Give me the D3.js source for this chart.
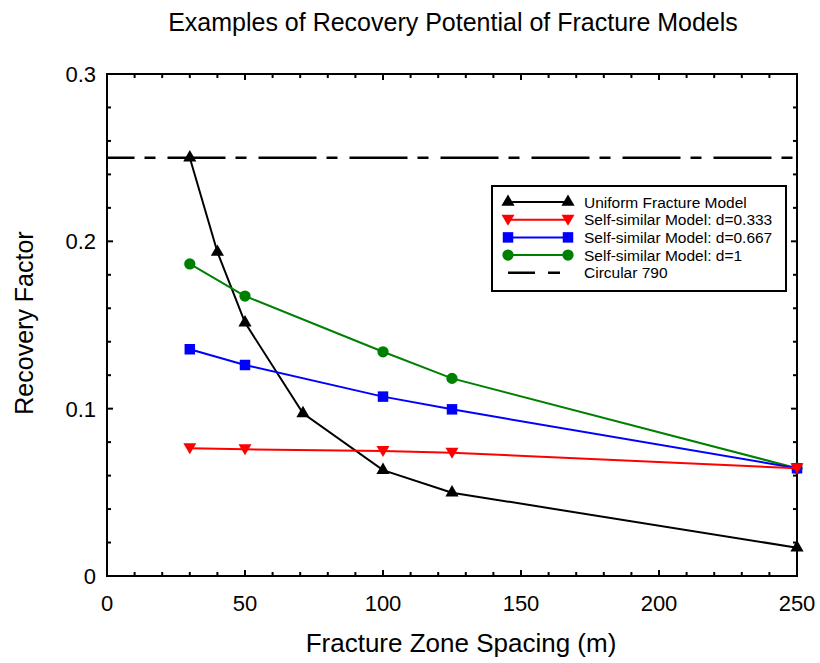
<!DOCTYPE html>
<html>
<head>
<meta charset="utf-8">
<script src="https://cdn.jsdelivr.net/npm/d3@7"></script>
<style>
  body { margin: 0; background: #fff; }
  text { font-family: Arial, "Liberation Sans", sans-serif; }
</style>
</head>
<body>
<script>
// data
var uniformX = [30, 40, 50, 71, 100, 125, 250];
var uniformY = [0.250, 0.1936, 0.1514, 0.0972, 0.0633, 0.0498, 0.0169];
var selfX = [30, 50, 100, 125, 250];
var self333 = [0.0763, 0.0757, 0.0747, 0.0737, 0.0644];
var self667 = [0.1355, 0.1261, 0.1072, 0.0996, 0.0644];
var self1 = [0.1865, 0.1673, 0.134, 0.1181, 0.0644];
var circular = 0.25;
var xTicks = [0, 50, 100, 150, 200, 250];
var yTicks = [0, 0.1, 0.2, 0.3];
var legendNames = ['Uniform Fracture Model', 'Self-similar Model: d=0.333',
  'Self-similar Model: d=0.667', 'Self-similar Model: d=1', 'Circular 790'];

var svg = d3.select('body').append('svg')
    .attr('width', 820)
    .attr('height', 663);

// plot box (note: "top" is taken by window.top)
var pLeft = 107, pRight = 797, pTop = 74, pBottom = 576;

var x = d3.scaleLinear().domain([0, 250]).range([pLeft, pRight]);
var y = d3.scaleLinear().domain([0, 0.3]).range([pBottom, pTop]);

// title
svg.append('text')
    .attr('x', 453).attr('y', 31)
    .attr('text-anchor', 'middle')
    .attr('font-size', 25)
    .text('Examples of Recovery Potential of Fracture Models');

// axis titles
svg.append('text')
    .attr('x', (pLeft + pRight) / 2 + 9).attr('y', 652)
    .attr('text-anchor', 'middle')
    .attr('font-size', 26)
    .text('Fracture Zone Spacing (m)');

svg.append('text')
    .attr('transform', 'translate(33,323) rotate(-90)')
    .attr('text-anchor', 'middle')
    .attr('font-size', 25)
    .text('Recovery Factor');

// ticks, inward on all four sides
var minorX = d3.range(0, 251, 10);
var minorY = d3.range(0, 0.3001, 0.02);

function tickLen(isMajor) { return isMajor ? 6 : 4; }

minorX.forEach(function (v) {
    var major = v % 50 === 0;
    svg.append('line').attr('x1', x(v)).attr('x2', x(v))
        .attr('y1', pBottom).attr('y2', pBottom - tickLen(major))
        .attr('stroke', 'black').attr('stroke-width', 2);
    svg.append('line').attr('x1', x(v)).attr('x2', x(v))
        .attr('y1', pTop).attr('y2', pTop + tickLen(major))
        .attr('stroke', 'black').attr('stroke-width', 2);
});
minorY.forEach(function (v) {
    var major = Math.abs(v * 10 - Math.round(v * 10)) < 1e-6;
    svg.append('line').attr('y1', y(v)).attr('y2', y(v))
        .attr('x1', pLeft).attr('x2', pLeft + tickLen(major))
        .attr('stroke', 'black').attr('stroke-width', 2);
    svg.append('line').attr('y1', y(v)).attr('y2', y(v))
        .attr('x1', pRight).attr('x2', pRight - tickLen(major))
        .attr('stroke', 'black').attr('stroke-width', 2);
});

// tick labels
svg.selectAll('.xlab').data(xTicks).enter().append('text')
    .attr('x', function (d) { return x(d); })
    .attr('y', pBottom + 35)
    .attr('text-anchor', 'middle')
    .attr('font-size', 22)
    .text(function (d) { return d; });

svg.selectAll('.ylab').data(yTicks).enter().append('text')
    .attr('x', pLeft - 11)
    .attr('y', function (d) { return y(d) + 8; })
    .attr('text-anchor', 'end')
    .attr('font-size', 22)
    .text(function (d) { return d; });

// frame
svg.append('rect')
    .attr('x', pLeft).attr('y', pTop)
    .attr('width', pRight - pLeft).attr('height', pBottom - pTop)
    .attr('fill', 'none').attr('stroke', 'black').attr('stroke-width', 2);

// circular 790 reference line
svg.append('line')
    .attr('x1', pLeft).attr('x2', pRight)
    .attr('y1', y(circular)).attr('y2', y(circular))
    .attr('stroke', 'black').attr('stroke-width', 2.5)
    .attr('stroke-dasharray', '58,10,11,12')
    .attr('stroke-dashoffset', 30.5);

var line = d3.line()
    .x(function (d) { return x(d[0]); })
    .y(function (d) { return y(d[1]); });

var triUp = d3.symbol().type(d3.symbolTriangle).size(75);
var triDown = 'M-6.5,-5L6.5,-5L0,6Z';
var square = d3.symbol().type(d3.symbolSquare).size(110);
var circle = d3.symbol().type(d3.symbolCircle).size(100);

var series = [
    { xs: uniformX, ys: uniformY, color: 'black', marker: triUp() },
    { xs: selfX, ys: self333, color: '#ff0000', marker: triDown },
    { xs: selfX, ys: self667, color: '#0000ff', marker: square() },
    { xs: selfX, ys: self1, color: '#008000', marker: circle() }
];

// draw in back-to-front order: black, green, blue, red
[0, 3, 2, 1].forEach(function (i) {
    var s = series[i];
    var pts = s.xs.map(function (v, j) { return [v, s.ys[j]]; });
    svg.append('path')
        .attr('d', line(pts))
        .attr('fill', 'none')
        .attr('stroke', s.color)
        .attr('stroke-width', 2);
    svg.selectAll(null).data(pts).enter().append('path')
        .attr('d', s.marker)
        .attr('transform', function (d) { return 'translate(' + x(d[0]) + ',' + y(d[1]) + ')'; })
        .attr('fill', s.color);
});

// legend
var legend = svg.append('g');
legend.append('rect')
    .attr('x', 492).attr('y', 186)
    .attr('width', 294).attr('height', 105)
    .attr('fill', 'white').attr('stroke', 'black').attr('stroke-width', 2);

legendNames.forEach(function (name, i) {
    var ly = 202 + i * 17.7;
    var s = series[i];
    if (s) {
        legend.append('line')
            .attr('x1', 508).attr('x2', 568).attr('y1', ly).attr('y2', ly)
            .attr('stroke', s.color).attr('stroke-width', 2);
        [508, 568].forEach(function (mx) {
            legend.append('path')
                .attr('d', s.marker)
                .attr('transform', 'translate(' + mx + ',' + ly + ')')
                .attr('fill', s.color);
        });
    } else {
        legend.append('line')
            .attr('x1', 508).attr('x2', 560).attr('y1', ly).attr('y2', ly)
            .attr('stroke', 'black').attr('stroke-width', 2.5)
            .attr('stroke-dasharray', '27,13,12');
    }
    legend.append('text')
        .attr('x', 584).attr('y', ly + 5.5)
        .attr('font-size', 15.5)
        .text(name);
});
</script>
</body>
</html>
